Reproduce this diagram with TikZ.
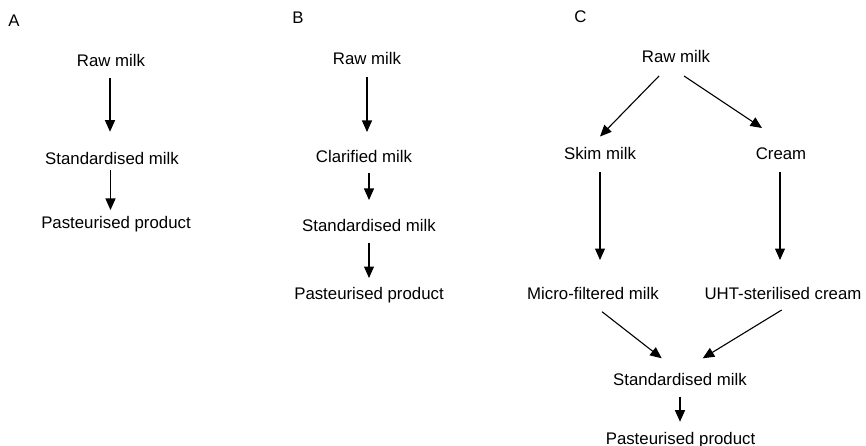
\documentclass[tikz,border=0pt]{standalone}
\usepackage{fontspec}
\setmainfont{Liberation Sans}
\usetikzlibrary{arrows.meta}
\begin{document}
\begin{tikzpicture}[x=1pt,y=-1pt,
  lbl/.style={anchor=base,inner sep=0pt,outer sep=0pt,text height=12pt,text depth=3.5pt,font=\fontsize{16.8}{20}\selectfont},
  arr/.style={line width=1.1pt,-{Triangle[length=11.5pt,width=10pt]}}]
\useasboundingbox (0,0) rectangle (866,446);
% Panel A
\node[lbl] (labA) at (14,27) {A};
\node[lbl] (rawA) at (111,67) {Raw milk};
\node[lbl] (stdA) at (112,165) {Standardised milk};
\node[lbl] (pastA) at (116,229) {Pasteurised product};
\draw[arr] ([xshift=-1pt,yshift=-7.5pt]rawA.south) -- ([xshift=-2pt,yshift=21.3pt]stdA.north);
\draw[arr] ([xshift=-1.5pt,yshift=-1.5pt]stdA.south) -- ([xshift=-5.5pt,yshift=7pt]pastA.north);
% Panel B
\node[lbl] (labB) at (298,23.5) {B};
\node[lbl] (rawB) at (367,65) {Raw milk};
\node[lbl] (clarB) at (364,163) {Clarified milk};
\node[lbl] (stdB) at (369,231) {Standardised milk};
\node[lbl] (pastB) at (369,299) {Pasteurised product};
\draw[arr] ([yshift=-8.5pt]rawB.south) -- ([xshift=3pt,yshift=19pt]clarB.north);
\draw[arr] ([xshift=5pt,yshift=-6.5pt]clarB.south) -- ([yshift=19pt]stdB.north);
\draw[arr] ([yshift=-8.5pt]stdB.south) -- ([yshift=9pt]pastB.north);
% Panel C
\node[lbl] (labC) at (580.5,23) {C};
\node[lbl] (rawC) at (676,63) {Raw milk};
\node[lbl] (skim) at (600,160) {Skim milk};
\node[lbl] (cream) at (781,160) {Cream};
\node[lbl] (micro) at (593,299) {Micro-filtered milk};
\node[lbl] (uht) at (783,299) {UHT-sterilised cream};
\node[lbl] (stdC) at (680,385) {Standardised milk};
\node[lbl] (pastC) at (680.5,444) {Pasteurised product};
\draw[arr] ([xshift=-17pt,yshift=-9.5pt]rawC.south) -- ([yshift=11.5pt]skim.north);
\draw[arr] ([xshift=8pt,yshift=-9.5pt]rawC.south) -- ([xshift=-19pt,yshift=20pt]cream.north);
\draw[arr] ([yshift=-8.5pt]skim.south) -- ([xshift=7pt,yshift=27pt]micro.north);
\draw[arr] ([xshift=-1pt,yshift=-8.5pt]cream.south) -- ([xshift=-3pt,yshift=27pt]uht.north);
\draw[arr] ([xshift=9pt,yshift=-9.2pt]micro.south) -- ([xshift=-18.3pt,yshift=14.7pt]stdC.north);
\draw[arr] ([xshift=-1.3pt,yshift=-7.5pt]uht.south) -- ([xshift=22.7pt,yshift=14.7pt]stdC.north);
\draw[arr] ([yshift=-8.2pt]stdC.south) -- ([xshift=-0.5pt,yshift=10.3pt]pastC.north);
\end{tikzpicture}
\end{document}
